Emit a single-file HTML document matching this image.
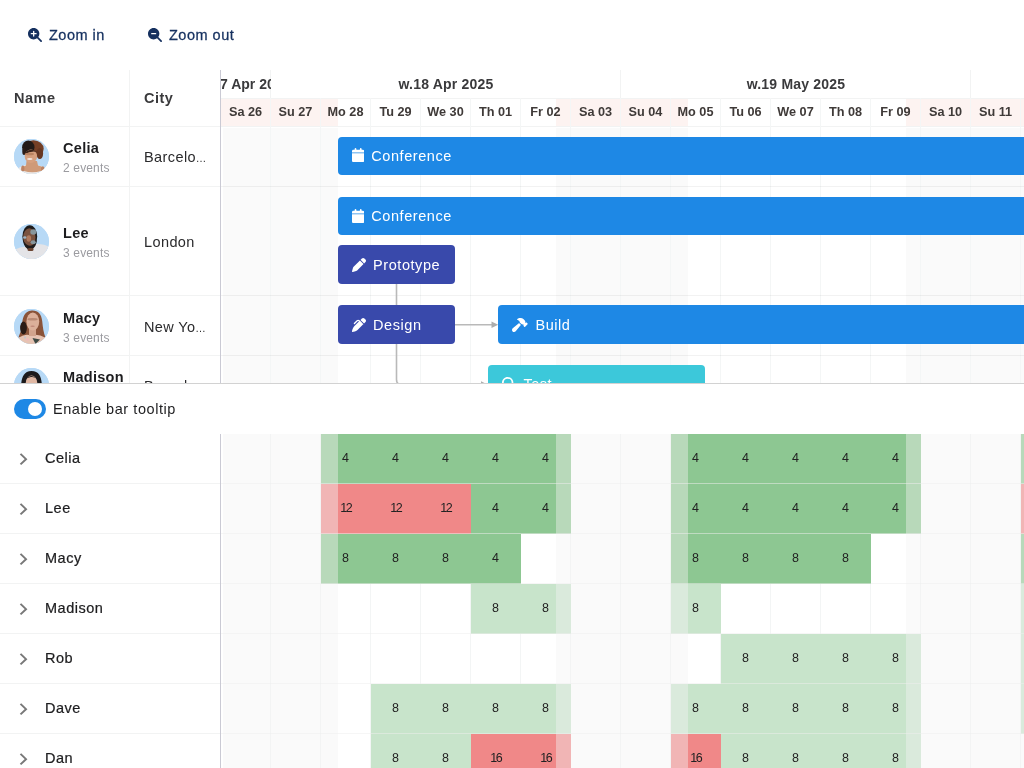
<!DOCTYPE html>
<html lang="en">
<head>
<meta charset="utf-8">
<title>Scheduler with histogram</title>
<style>
*{box-sizing:border-box;margin:0;padding:0}
html,body{width:1024px;height:768px;overflow:hidden;background:#fff;font-family:"Liberation Sans",sans-serif;color:#1d1d1f}
#app{position:relative;width:1024px;height:768px;overflow:hidden;background:#fff}
.a{position:absolute}
.t{position:absolute;white-space:nowrap;line-height:1}
/* toolbar */
.tbtn{-webkit-text-stroke:.28px #15305f;position:absolute;top:27px;font-size:14.5px;letter-spacing:.5px;color:#15305f;white-space:nowrap;line-height:16px}
/* top grid */
#top{position:absolute;left:0;top:70px;width:1024px;height:313px;overflow:hidden;background:#fff}
#lock{position:absolute;left:0;top:0;width:220px;height:313px;background:#fff}
#sched{position:absolute;left:221px;top:0;width:803px;height:313px;overflow:hidden}
.hd{font-weight:bold;font-size:14.5px;color:#3a3a3c;letter-spacing:.5px}
.vl{position:absolute;width:1px;background:#f2f3f3}
.hl{position:absolute;height:1px;background:#f2f3f3}
.av{position:absolute;left:14px;width:35px;height:35px;border-radius:50%;background:#b7d9f6;overflow:hidden}
.nm{font-weight:bold;font-size:14.5px;color:#1d1d1f;left:63px;letter-spacing:.3px}
.ev{font-size:12px;color:#9b9ba0;left:63px;letter-spacing:.15px}
.city i{font-style:normal;font-size:10.5px;letter-spacing:-.2px;margin-left:-.3px}
.city{font-size:14.5px;color:#2a2a2c;left:144px;letter-spacing:.4px}
.dh{position:absolute;top:28px;height:28px;line-height:29.500px;text-align:center;font-weight:bold;font-size:12.700px;color:#3f3a38;width:50px;white-space:nowrap}
.wh{position:absolute;top:0;height:28px;line-height:29px;text-align:center;font-weight:bold;font-size:14px;letter-spacing:.2px;color:#3a3a3c;white-space:nowrap}
.nw{position:absolute;background:rgba(238,238,238,.42)}
.bar{position:absolute;border-radius:4px;color:#fff;font-size:14.5px;letter-spacing:.55px;white-space:nowrap;overflow:hidden}
.bar span{position:absolute;left:33.5px;top:50%;line-height:16px;margin-top:-8px}
.bar svg{position:absolute;left:14px;top:50%}
/* bottom */
#mid{position:absolute;left:0;top:384px;width:1024px;height:50px;background:#fff}
#bot{position:absolute;left:0;top:434px;width:1024px;height:334px;overflow:hidden;background:#fff}
.hn{-webkit-text-stroke:.22px #1d1d1f;font-size:14.5px;color:#1d1d1f;left:45px;letter-spacing:.5px}
.num{position:absolute;width:50px;text-align:center;font-size:12.5px;color:#222;line-height:14px}
</style>
</head>
<body>
<div id="app">
<svg class="a" style="left:28px;top:28px" width="14" height="14" viewBox="0 0 512 512"><path fill="#15305f" d="M416 208c0 45.900-14.900 88.300-40 122.700L502.600 457.400c12.500 12.500 12.500 32.800 0 45.300s-32.800 12.500-45.300 0L330.700 376c-34.400 25.200-76.800 40-122.700 40C93.100 416 0 322.900 0 208S93.100 0 208 0S416 93.100 416 208zM184 296c0 13.300 10.700 24 24 24s24-10.700 24-24l0-64 64 0c13.300 0 24-10.700 24-24s-10.700-24-24-24l-64 0 0-64c0-13.300-10.700-24-24-24s-24 10.700-24 24l0 64-64 0c-13.300 0-24 10.700-24 24s10.700 24 24 24l64 0 0 64z"/></svg>
<div class="tbtn" id="zi" style="left:49px">Zoom in</div>
<svg class="a" style="left:148px;top:28px" width="14" height="14" viewBox="0 0 512 512"><path fill="#15305f" d="M416 208c0 45.900-14.900 88.300-40 122.700L502.600 457.400c12.500 12.500 12.500 32.800 0 45.300s-32.800 12.500-45.300 0L330.700 376c-34.400 25.200-76.800 40-122.700 40C93.100 416 0 322.900 0 208S93.100 0 208 0S416 93.100 416 208zM136 184c-13.300 0-24 10.700-24 24s10.700 24 24 24l144 0c13.300 0 24-10.700 24-24s-10.700-24-24-24l-144 0z"/></svg>
<div class="tbtn" id="zo" style="left:169px">Zoom out</div>
<div id="top">
<div id="lock">
<div class="t hd" id="hname" style="left:14px;top:21px">Name</div>
<div class="t hd" id="hcity" style="left:144px;top:21px">City</div>
<div class="vl" style="left:129px;top:0;height:313px"></div>
<div class="hl" style="left:0;top:56px;width:220px"></div>
<div class="av" id="av0" style="top:68.6px"><svg width="35" height="35" viewBox="0 0 35 35"><rect width="35" height="35" fill="#b7d9f6"/><ellipse cx="17.500" cy="34" rx="16" ry="8.500" fill="#ebe8e6"/><path d="M12.500 22 L23 22 L24 26.500 Q30 27.500 31.500 31.500 L27 32 Q18 34.500 10 32 L7 31.500 Q8 27.500 12 26.500Z" fill="#cf9a78"/><ellipse cx="8.800" cy="29.500" rx="1.600" ry="3" fill="#bd8262"/><ellipse cx="28.800" cy="29.800" rx="1.800" ry="2.600" fill="#bd8262"/><ellipse cx="19.400" cy="9.800" rx="10.300" ry="8.600" fill="#743f26"/><ellipse cx="14.300" cy="8.300" rx="6.200" ry="6.800" fill="#211a18"/><ellipse cx="10" cy="12.500" rx="1.700" ry="3.600" fill="#2a1d18"/><ellipse cx="25.800" cy="14.500" rx="3.300" ry="5.500" fill="#673722"/><ellipse cx="16.900" cy="17.200" rx="6.200" ry="6.800" fill="#d6a07f"/><path d="M10.500 14 Q16 8 23 13 Q17 11.500 10.500 15.500Z" fill="#3a2218"/><ellipse cx="15.500" cy="15" rx="4.600" ry="1.300" fill="#b98362"/><ellipse cx="15.800" cy="20" rx="2.800" ry="1.100" fill="#f1e3db"/></svg></div>
<div class="t nm" id="nm0" style="top:71.0px">Celia</div>
<div class="t ev" id="ev0" style="top:91.5px">2 events</div>
<div class="t city" id="ct0" style="top:79.5px">Barcelo<i>…</i></div>
<div class="hl" style="left:0;top:116px;width:220px"></div>
<div class="av" id="av1" style="top:153.6px"><svg width="35" height="35" viewBox="0 0 35 35"><rect width="35" height="35" fill="#b7d9f6"/><path d="M1 25.500 Q9 21.500 15 23.500 L23 20 Q31 20 35 23 V35 H1Z" fill="#e4e4e7"/><ellipse cx="15.800" cy="12.600" rx="7.400" ry="11.400" fill="#1d1b1b"/><ellipse cx="15.300" cy="13.500" rx="6.200" ry="9.300" fill="#7a5340"/><path d="M8.800 15 Q10 25.500 16.500 25.800 Q22.500 24.500 23 15 Q21 21.500 16 21.800 Q11.500 21.500 8.800 15Z" fill="#1f1c1c"/><rect x="13.500" y="24" width="6" height="3" rx="1.500" fill="#6b4532"/><ellipse cx="19.300" cy="8" rx="3" ry="2.800" fill="#87969c"/><ellipse cx="19.200" cy="18.200" rx="2.600" ry="2" fill="#87969c"/><ellipse cx="10.800" cy="13.500" rx="1.700" ry="1.200" fill="#9db4c4"/><ellipse cx="14.800" cy="14.500" rx="2.300" ry="3.300" fill="#b07a5e"/></svg></div>
<div class="t nm" id="nm1" style="top:156.0px">Lee</div>
<div class="t ev" id="ev1" style="top:176.5px">3 events</div>
<div class="t city" id="ct1" style="top:164.5px">London</div>
<div class="hl" style="left:0;top:225px;width:220px"></div>
<div class="av" id="av2" style="top:238.6px"><svg width="35" height="35" viewBox="0 0 35 35"><rect width="35" height="35" fill="#b7d9f6"/><path d="M17.800 1.500 C9.500 2 8.500 10 8 16 C7.500 22 5.500 25 4.500 28.500 L31.500 28.500 C29.500 24 28.800 18 28.200 12 C27.500 5 24 1.200 17.800 1.500Z" fill="#8a5339"/><ellipse cx="9.500" cy="19" rx="3.400" ry="6.500" fill="#2b1b15"/><path d="M5 28.500 Q11 24.500 17 26.500 Q24 24.500 31 28.500 L29 36 H7Z" fill="#e6c4b3"/><rect x="15" y="19" width="7" height="8" fill="#d1a48d"/><ellipse cx="18.800" cy="12.600" rx="6.400" ry="9" fill="#dcb09a"/><ellipse cx="18.600" cy="10.300" rx="5.200" ry="1.200" fill="#b98a74"/><ellipse cx="18.600" cy="17.200" rx="2.200" ry=".8" fill="#c08878"/><path d="M18.500 29 L21.500 35 L26 30.500 Z" fill="#3d4a44"/><circle cx="13.500" cy="30.500" r="1.200" fill="#f1b6bd"/><circle cx="11" cy="28.500" r=".9" fill="#b8c4d4"/></svg></div>
<div class="t nm" id="nm2" style="top:241.0px">Macy</div>
<div class="t ev" id="ev2" style="top:261.5px">3 events</div>
<div class="t city" id="ct2" style="top:249.5px">New Yo<i>…</i></div>
<div class="hl" style="left:0;top:285px;width:220px"></div>
<div class="av" id="av3" style="top:297.90000000000003px"><svg width="35" height="35" viewBox="0 0 35 35"><rect width="35" height="35" fill="#b7d9f6"/><path d="M17.500 3 C9 3 7.500 11 7 18 L6 30 H29 L28 18 C27.500 10 26 3 17.500 3Z" fill="#1c1a1c"/><ellipse cx="17.500" cy="15" rx="5.800" ry="7.500" fill="#e0b8a4"/><path d="M11.500 11 Q17 5 23.500 11 Q20 8.500 17 9 Q14 9.500 11.500 11Z" fill="#1c1a1c"/></svg></div>
<div class="t nm" id="nm3" style="top:300.3px">Madison</div>
<div class="t ev" id="ev3" style="top:320.8px">3 events</div>
<div class="t city" id="ct3" style="top:308.8px">Barcelo<i>…</i></div>
<div class="hl" style="left:0;top:345px;width:220px"></div>
</div>
<div class="a" style="left:220px;top:0;width:1px;height:313px;background:#cacad4"></div>
<div id="sched">
<div class="a" style="left:0.00px;top:28px;width:116.67px;height:28.500px;background:#fdf3f1"></div>
<div class="a" style="left:335.42px;top:28px;width:131.25px;height:28.500px;background:#fdf3f1"></div>
<div class="a" style="left:685.42px;top:28px;width:117.58px;height:28.500px;background:#fdf3f1"></div>
<div class="a" style="left:1.60px;top:57.500px;width:115.07px;height:256px;background:#fafafa"></div>
<div class="a" style="left:335.42px;top:57.500px;width:131.25px;height:256px;background:#fafafa"></div>
<div class="a" style="left:685.42px;top:57.500px;width:117.58px;height:256px;background:#fafafa"></div>
<div class="hl" style="left:0;top:28px;width:803px"></div>
<div class="hl" style="left:0;top:56px;width:803px"></div>
<div class="vl" style="left:49px;top:28px;height:285px;background:#f4f6f6"></div>
<div class="vl" style="left:99px;top:28px;height:285px;background:#f4f6f6"></div>
<div class="vl" style="left:149px;top:28px;height:285px;background:#f4f6f6"></div>
<div class="vl" style="left:199px;top:28px;height:285px;background:#f4f6f6"></div>
<div class="vl" style="left:249px;top:28px;height:285px;background:#f4f6f6"></div>
<div class="vl" style="left:299px;top:28px;height:285px;background:#f4f6f6"></div>
<div class="vl" style="left:349px;top:28px;height:285px;background:#f4f6f6"></div>
<div class="vl" style="left:399px;top:28px;height:285px;background:#f4f6f6"></div>
<div class="vl" style="left:449px;top:28px;height:285px;background:#f4f6f6"></div>
<div class="vl" style="left:499px;top:28px;height:285px;background:#f4f6f6"></div>
<div class="vl" style="left:549px;top:28px;height:285px;background:#f4f6f6"></div>
<div class="vl" style="left:599px;top:28px;height:285px;background:#f4f6f6"></div>
<div class="vl" style="left:649px;top:28px;height:285px;background:#f4f6f6"></div>
<div class="vl" style="left:699px;top:28px;height:285px;background:#f4f6f6"></div>
<div class="vl" style="left:749px;top:28px;height:285px;background:#f4f6f6"></div>
<div class="vl" style="left:799px;top:28px;height:285px;background:#f4f6f6"></div>
<div class="vl" style="left:849px;top:28px;height:285px;background:#f4f6f6"></div>
<div class="vl" style="left:49px;top:0;height:28px"></div>
<div class="vl" style="left:399px;top:0;height:28px"></div>
<div class="vl" style="left:749px;top:0;height:28px"></div>
<div class="dh" style="left:-0.5px">Sa 26</div>
<div class="dh" style="left:49.5px">Su 27</div>
<div class="dh" style="left:99.5px">Mo 28</div>
<div class="dh" style="left:149.5px">Tu 29</div>
<div class="dh" style="left:199.5px">We 30</div>
<div class="dh" style="left:249.5px">Th 01</div>
<div class="dh" style="left:299.5px">Fr 02</div>
<div class="dh" style="left:349.5px">Sa 03</div>
<div class="dh" style="left:399.5px">Su 04</div>
<div class="dh" style="left:449.5px">Mo 05</div>
<div class="dh" style="left:499.5px">Tu 06</div>
<div class="dh" style="left:549.5px">We 07</div>
<div class="dh" style="left:599.5px">Th 08</div>
<div class="dh" style="left:649.5px">Fr 09</div>
<div class="dh" style="left:699.5px">Sa 10</div>
<div class="dh" style="left:749.5px">Su 11</div>
<div class="dh" style="left:799.5px">Mo 12</div>
<div class="wh" style="left:50px;width:350px">w.18 Apr 2025</div>
<div class="wh" style="left:400px;width:350px">w.19 May 2025</div>
<div class="a" style="left:0;top:0;width:50px;height:28px;overflow:hidden"><div class="wh" id="w17" style="left:-23px;letter-spacing:0">w.17 Apr 2025</div></div>
<div class="a" style="left:750px;top:0;width:53px;height:28px;overflow:hidden"><div class="wh" style="left:128px">w.20 May 2025</div></div>
<div class="hl" style="left:0;top:116px;width:803px;background:rgba(0,0,0,.05)"></div>
<div class="hl" style="left:0;top:225px;width:803px;background:rgba(0,0,0,.05)"></div>
<div class="hl" style="left:0;top:285px;width:803px;background:rgba(0,0,0,.05)"></div>
<svg class="a" style="left:0;top:0" width="803" height="313" viewBox="0 0 803 313"><g fill="none" stroke="#b9b9b9" stroke-width="1.600"><path d="M175.500 213.500 V235.500"/><path d="M175.500 273.500 V309.500 Q175.500 314.600 180.600 314.600 H262"/><path d="M234 254.800 H272"/></g><path d="M270.500 251.500 L277.200 254.800 L270.500 258.100 Z" fill="#adadad"/><path d="M260 311.300 L266.800 314.600 L260 317.900 Z" fill="#adadad"/></svg>
<div class="bar" style="left:116.6px;top:66.7px;width:760px;height:38.5px;background:#1e88e5"><svg width="12.25" height="14" viewBox="0 0 448 512" style="margin-top:-7.5px"><path fill="#fff" d="M96 32l0 32L48 64C21.500 64 0 85.500 0 112l0 48 448 0 0-48c0-26.500-21.500-48-48-48l-48 0 0-32c0-17.700-14.300-32-32-32s-32 14.300-32 32l0 32L160 64l0-32c0-17.700-14.300-32-32-32S96 14.300 96 32zM448 192L0 192 0 464c0 26.500 21.500 48 48 48l352 0c26.500 0 48-21.500 48-48l0-272z"/></svg><span id="bt0" style="left:33.75px">Conference</span></div>
<div class="bar" style="left:116.6px;top:126.9px;width:760px;height:38.4px;background:#1e88e5"><svg width="12.25" height="14" viewBox="0 0 448 512" style="margin-top:-7.5px"><path fill="#fff" d="M96 32l0 32L48 64C21.500 64 0 85.500 0 112l0 48 448 0 0-48c0-26.500-21.500-48-48-48l-48 0 0-32c0-17.700-14.300-32-32-32s-32 14.300-32 32l0 32L160 64l0-32c0-17.700-14.300-32-32-32S96 14.300 96 32zM448 192L0 192 0 464c0 26.500 21.500 48 48 48l352 0c26.500 0 48-21.500 48-48l0-272z"/></svg><span id="bt1" style="left:33.75px">Conference</span></div>
<div class="bar" style="left:116.6px;top:175.4px;width:117.6px;height:38.4px;background:#3949ab"><svg width="14" height="14" viewBox="0 0 512 512" style="margin-top:-7px"><path fill="#fff" d="M362.700 19.300L314.300 67.700 444.300 197.700l48.400-48.400c25-25 25-65.500 0-90.500L453.300 19.300c-25-25-65.500-25-90.500 0zm-71 71L58.600 323.500c-10.400 10.400-18 23.300-22.200 37.400L1 481.200C-1.500 489.700 .8 498.800 7 505s15.300 8.500 23.700 6.100l120.300-35.400c14.100-4.200 27-11.800 37.400-22.200L421.700 220.300 291.700 90.300z"/></svg><span id="bt2" style="left:35.5px">Prototype</span></div>
<div class="bar" style="left:116.6px;top:235.3px;width:117.6px;height:38.5px;background:#3949ab"><svg width="14" height="14" viewBox="0 0 512 512" style="margin-top:-7px"><path fill="#fff" d="M453.300 19.300l39.400 39.400c25 25 25 65.500 0 90.500l-52.100 52.100-1-1-16-16-96-96-17-17 52.100-52.100c25-25 65.500-25 90.500 0zM241 114.900c-9.400-9.400-24.600-9.400-33.900 0L105 217c-9.400 9.400-24.600 9.400-33.900 0s-9.400-24.600 0-33.900L173.100 81c28.100-28.100 73.700-28.100 101.800 0L288 94.100l17 17 96 96 16 16 1 1-17 17L229.500 412.500c-48 48-109.200 80.800-175.800 94.100l-25 5c-7.900 1.600-16-.9-21.700-6.600s-8.100-13.800-6.600-21.700l5-25c13.300-66.600 46.100-127.800 94.100-175.800L254.100 128 241 114.900z"/></svg><span id="bt3" style="left:35.5px">Design</span></div>
<div class="bar" style="left:277.2px;top:235.3px;width:600px;height:38.5px;background:#1e88e5"><svg width="15.750" height="14" viewBox="0 0 576 512" style="margin-top:-7px"><path fill="#fff" d="M413.500 237.500c-28.200 4.800-58.200-3.600-80-25.400l-38.100-38.100C280.400 159 272 138.800 272 117.600l0-12.100L192.300 62c-5.300-2.900-8.600-8.600-8.300-14.700s3.900-11.500 9.500-14l47.200-21C259.100 4.200 279 0 299.200 0l18.100 0c36.700 0 72 14 98.700 39.100l44.600 42c24.200 22.800 33.200 55.700 26.600 86L503 183l8-8c9.400-9.400 24.600-9.400 33.900 0l24 24c9.400 9.400 9.400 24.600 0 33.900l-88 88c-9.400 9.400-24.600 9.400-33.900 0l-24-24c-9.400-9.400-9.400-24.600 0-33.900l8-8-17.500-17.500zM27.400 377.100L260.900 182.600c3.500 4.900 7.500 9.600 11.800 14l38.100 38.100c6 6 12.400 11.200 19.200 15.700L134.900 484.600c-14.500 17.400-36 27.400-58.600 27.400C34.100 512 0 477.800 0 435.700c0-22.600 10.100-44.100 27.400-58.600z"/></svg><span id="bt4" style="left:37.25px">Build</span></div>
<div class="bar" style="left:266.9px;top:295.3px;width:217.6px;height:38.4px;background:#3cc8da"><svg width="14" height="14" viewBox="0 0 512 512" style="margin-top:-7px"><path fill="#fff" d="M416 208c0 45.900-14.900 88.300-40 122.700L502.600 457.400c12.500 12.500 12.500 32.800 0 45.300s-32.800 12.500-45.300 0L330.700 376c-34.400 25.200-76.800 40-122.700 40C93.100 416 0 322.900 0 208S93.100 0 208 0S416 93.100 416 208zM208 352a144 144 0 1 0 0-288 144 144 0 1 0 0 288z"/></svg><span id="bt5" style="left:35.5px">Test</span></div>
</div>
</div>
<div class="a" style="left:0;top:383px;width:1024px;height:1px;background:#d2d2d2"></div><div class="a" style="left:0;top:384px;width:1024px;height:1px;background:#eeeeee"></div>
<div id="mid">
<div class="a" style="left:14.25px;top:14.75px;width:31.500px;height:20.500px;border-radius:10.250px;background:#1e88e5"></div>
<div class="a" style="left:27.900px;top:17.850px;width:14.400px;height:14.400px;border-radius:50%;background:#fff"></div>
<div class="t" id="ebt" style="left:53px;top:17px;font-size:14.5px;color:#1d1d1f;line-height:16px;letter-spacing:.56px">Enable bar tooltip</div>
</div>
<div id="bot">
<div class="vl" style="left:270px;top:0;height:334px;background:#f3f5f5"></div>
<div class="vl" style="left:320px;top:0;height:334px;background:#f3f5f5"></div>
<div class="vl" style="left:370px;top:0;height:334px;background:#f3f5f5"></div>
<div class="vl" style="left:420px;top:0;height:334px;background:#f3f5f5"></div>
<div class="vl" style="left:470px;top:0;height:334px;background:#f3f5f5"></div>
<div class="vl" style="left:520px;top:0;height:334px;background:#f3f5f5"></div>
<div class="vl" style="left:570px;top:0;height:334px;background:#f3f5f5"></div>
<div class="vl" style="left:620px;top:0;height:334px;background:#f3f5f5"></div>
<div class="vl" style="left:670px;top:0;height:334px;background:#f3f5f5"></div>
<div class="vl" style="left:720px;top:0;height:334px;background:#f3f5f5"></div>
<div class="vl" style="left:770px;top:0;height:334px;background:#f3f5f5"></div>
<div class="vl" style="left:820px;top:0;height:334px;background:#f3f5f5"></div>
<div class="vl" style="left:870px;top:0;height:334px;background:#f3f5f5"></div>
<div class="vl" style="left:920px;top:0;height:334px;background:#f3f5f5"></div>
<div class="vl" style="left:970px;top:0;height:334px;background:#f3f5f5"></div>
<div class="vl" style="left:1020px;top:0;height:334px;background:#f3f5f5"></div>
<div class="vl" style="left:1070px;top:0;height:334px;background:#f3f5f5"></div>
<div class="a" style="left:321px;top:0px;width:50px;height:50px;background:#8dc792"></div>
<div class="a" style="left:371px;top:0px;width:50px;height:50px;background:#8dc792"></div>
<div class="a" style="left:421px;top:0px;width:50px;height:50px;background:#8dc792"></div>
<div class="a" style="left:471px;top:0px;width:50px;height:50px;background:#8dc792"></div>
<div class="a" style="left:521px;top:0px;width:50px;height:50px;background:#8dc792"></div>
<div class="a" style="left:671px;top:0px;width:50px;height:50px;background:#8dc792"></div>
<div class="a" style="left:721px;top:0px;width:50px;height:50px;background:#8dc792"></div>
<div class="a" style="left:771px;top:0px;width:50px;height:50px;background:#8dc792"></div>
<div class="a" style="left:821px;top:0px;width:50px;height:50px;background:#8dc792"></div>
<div class="a" style="left:871px;top:0px;width:50px;height:50px;background:#8dc792"></div>
<div class="a" style="left:1021px;top:0px;width:50px;height:50px;background:#8dc792"></div>
<div class="num" style="left:320.5px;top:16.8px">4</div>
<div class="num" style="left:370.5px;top:16.8px">4</div>
<div class="num" style="left:420.5px;top:16.8px">4</div>
<div class="num" style="left:470.5px;top:16.8px">4</div>
<div class="num" style="left:520.5px;top:16.8px">4</div>
<div class="num" style="left:670.5px;top:16.8px">4</div>
<div class="num" style="left:720.5px;top:16.8px">4</div>
<div class="num" style="left:770.5px;top:16.8px">4</div>
<div class="num" style="left:820.5px;top:16.8px">4</div>
<div class="num" style="left:870.5px;top:16.8px">4</div>
<div class="num" style="left:1020.5px;top:16.8px">4</div>
<div class="a" style="left:321px;top:50px;width:50px;height:50px;background:#f08888"></div>
<div class="a" style="left:371px;top:50px;width:50px;height:50px;background:#f08888"></div>
<div class="a" style="left:421px;top:50px;width:50px;height:50px;background:#f08888"></div>
<div class="a" style="left:471px;top:50px;width:50px;height:50px;background:#8dc792"></div>
<div class="a" style="left:521px;top:50px;width:50px;height:50px;background:#8dc792"></div>
<div class="a" style="left:671px;top:50px;width:50px;height:50px;background:#8dc792"></div>
<div class="a" style="left:721px;top:50px;width:50px;height:50px;background:#8dc792"></div>
<div class="a" style="left:771px;top:50px;width:50px;height:50px;background:#8dc792"></div>
<div class="a" style="left:821px;top:50px;width:50px;height:50px;background:#8dc792"></div>
<div class="a" style="left:871px;top:50px;width:50px;height:50px;background:#8dc792"></div>
<div class="a" style="left:1021px;top:50px;width:50px;height:50px;background:#f08888"></div>
<div class="num" style="left:320.5px;top:66.8px;letter-spacing:-1.500px;padding-left:.400px">12</div>
<div class="num" style="left:370.5px;top:66.8px;letter-spacing:-1.500px;padding-left:.400px">12</div>
<div class="num" style="left:420.5px;top:66.8px;letter-spacing:-1.500px;padding-left:.400px">12</div>
<div class="num" style="left:470.5px;top:66.8px">4</div>
<div class="num" style="left:520.5px;top:66.8px">4</div>
<div class="num" style="left:670.5px;top:66.8px">4</div>
<div class="num" style="left:720.5px;top:66.8px">4</div>
<div class="num" style="left:770.5px;top:66.8px">4</div>
<div class="num" style="left:820.5px;top:66.8px">4</div>
<div class="num" style="left:870.5px;top:66.8px">4</div>
<div class="num" style="left:1020.5px;top:66.8px;letter-spacing:-1.500px;padding-left:.400px">12</div>
<div class="a" style="left:321px;top:100px;width:50px;height:50px;background:#8dc792"></div>
<div class="a" style="left:371px;top:100px;width:50px;height:50px;background:#8dc792"></div>
<div class="a" style="left:421px;top:100px;width:50px;height:50px;background:#8dc792"></div>
<div class="a" style="left:471px;top:100px;width:50px;height:50px;background:#8dc792"></div>
<div class="a" style="left:671px;top:100px;width:50px;height:50px;background:#8dc792"></div>
<div class="a" style="left:721px;top:100px;width:50px;height:50px;background:#8dc792"></div>
<div class="a" style="left:771px;top:100px;width:50px;height:50px;background:#8dc792"></div>
<div class="a" style="left:821px;top:100px;width:50px;height:50px;background:#8dc792"></div>
<div class="a" style="left:1021px;top:100px;width:50px;height:50px;background:#8dc792"></div>
<div class="num" style="left:320.5px;top:116.8px">8</div>
<div class="num" style="left:370.5px;top:116.8px">8</div>
<div class="num" style="left:420.5px;top:116.8px">8</div>
<div class="num" style="left:470.5px;top:116.8px">4</div>
<div class="num" style="left:670.5px;top:116.8px">8</div>
<div class="num" style="left:720.5px;top:116.8px">8</div>
<div class="num" style="left:770.5px;top:116.8px">8</div>
<div class="num" style="left:820.5px;top:116.8px">8</div>
<div class="num" style="left:1020.5px;top:116.8px">8</div>
<div class="a" style="left:471px;top:150px;width:50px;height:50px;background:#c8e4cb"></div>
<div class="a" style="left:521px;top:150px;width:50px;height:50px;background:#c8e4cb"></div>
<div class="a" style="left:671px;top:150px;width:50px;height:50px;background:#c8e4cb"></div>
<div class="a" style="left:1021px;top:150px;width:50px;height:50px;background:#c8e4cb"></div>
<div class="num" style="left:470.5px;top:166.8px">8</div>
<div class="num" style="left:520.5px;top:166.8px">8</div>
<div class="num" style="left:670.5px;top:166.8px">8</div>
<div class="num" style="left:1020.5px;top:166.8px">8</div>
<div class="a" style="left:721px;top:200px;width:50px;height:50px;background:#c8e4cb"></div>
<div class="a" style="left:771px;top:200px;width:50px;height:50px;background:#c8e4cb"></div>
<div class="a" style="left:821px;top:200px;width:50px;height:50px;background:#c8e4cb"></div>
<div class="a" style="left:871px;top:200px;width:50px;height:50px;background:#c8e4cb"></div>
<div class="a" style="left:1021px;top:200px;width:50px;height:50px;background:#c8e4cb"></div>
<div class="num" style="left:720.5px;top:216.8px">8</div>
<div class="num" style="left:770.5px;top:216.8px">8</div>
<div class="num" style="left:820.5px;top:216.8px">8</div>
<div class="num" style="left:870.5px;top:216.8px">8</div>
<div class="num" style="left:1020.5px;top:216.8px">8</div>
<div class="a" style="left:371px;top:250px;width:50px;height:50px;background:#c8e4cb"></div>
<div class="a" style="left:421px;top:250px;width:50px;height:50px;background:#c8e4cb"></div>
<div class="a" style="left:471px;top:250px;width:50px;height:50px;background:#c8e4cb"></div>
<div class="a" style="left:521px;top:250px;width:50px;height:50px;background:#c8e4cb"></div>
<div class="a" style="left:671px;top:250px;width:50px;height:50px;background:#c8e4cb"></div>
<div class="a" style="left:721px;top:250px;width:50px;height:50px;background:#c8e4cb"></div>
<div class="a" style="left:771px;top:250px;width:50px;height:50px;background:#c8e4cb"></div>
<div class="a" style="left:821px;top:250px;width:50px;height:50px;background:#c8e4cb"></div>
<div class="a" style="left:871px;top:250px;width:50px;height:50px;background:#c8e4cb"></div>
<div class="a" style="left:1021px;top:250px;width:50px;height:50px;background:#c8e4cb"></div>
<div class="num" style="left:370.5px;top:266.8px">8</div>
<div class="num" style="left:420.5px;top:266.8px">8</div>
<div class="num" style="left:470.5px;top:266.8px">8</div>
<div class="num" style="left:520.5px;top:266.8px">8</div>
<div class="num" style="left:670.5px;top:266.8px">8</div>
<div class="num" style="left:720.5px;top:266.8px">8</div>
<div class="num" style="left:770.5px;top:266.8px">8</div>
<div class="num" style="left:820.5px;top:266.8px">8</div>
<div class="num" style="left:870.5px;top:266.8px">8</div>
<div class="num" style="left:1020.5px;top:266.8px">8</div>
<div class="a" style="left:371px;top:300px;width:50px;height:50px;background:#c8e4cb"></div>
<div class="a" style="left:421px;top:300px;width:50px;height:50px;background:#c8e4cb"></div>
<div class="a" style="left:471px;top:300px;width:50px;height:50px;background:#f08888"></div>
<div class="a" style="left:521px;top:300px;width:50px;height:50px;background:#f08888"></div>
<div class="a" style="left:671px;top:300px;width:50px;height:50px;background:#f08888"></div>
<div class="a" style="left:721px;top:300px;width:50px;height:50px;background:#c8e4cb"></div>
<div class="a" style="left:771px;top:300px;width:50px;height:50px;background:#c8e4cb"></div>
<div class="a" style="left:821px;top:300px;width:50px;height:50px;background:#c8e4cb"></div>
<div class="a" style="left:871px;top:300px;width:50px;height:50px;background:#c8e4cb"></div>
<div class="num" style="left:370.5px;top:316.8px">8</div>
<div class="num" style="left:420.5px;top:316.8px">8</div>
<div class="num" style="left:470.5px;top:316.8px;letter-spacing:-1.500px;padding-left:.400px">16</div>
<div class="num" style="left:520.5px;top:316.8px;letter-spacing:-1.500px;padding-left:.400px">16</div>
<div class="num" style="left:670.5px;top:316.8px;letter-spacing:-1.500px;padding-left:.400px">16</div>
<div class="num" style="left:720.5px;top:316.8px">8</div>
<div class="num" style="left:770.5px;top:316.8px">8</div>
<div class="num" style="left:820.5px;top:316.8px">8</div>
<div class="num" style="left:870.5px;top:316.8px">8</div>
<div class="a" style="left:222.60px;top:0;width:115.07px;height:334px;background:rgba(243,243,243,.42)"></div>
<div class="a" style="left:556.42px;top:0;width:131.25px;height:334px;background:rgba(243,243,243,.42)"></div>
<div class="a" style="left:906.42px;top:0;width:117.58px;height:334px;background:rgba(243,243,243,.42)"></div>
<div class="a" style="left:0;top:0;width:220px;height:334px;background:#fff"></div>
<svg class="a" style="left:18px;top:17px" width="11" height="16" viewBox="0 0 11 16"><path d="M2.500 2.900 L8 8.150 L2.500 13.400" fill="none" stroke="#787878" stroke-width="2" stroke-linecap="butt" stroke-linejoin="miter"/></svg>
<div class="t hn" id="hn0" style="top:15.9px;line-height:16px">Celia</div>
<div class="hl" style="left:0;top:49px;width:220px"></div>
<div class="hl" style="left:221px;top:49px;width:803px;background:rgba(255,255,255,.5)"></div>
<div class="hl" style="left:221px;top:49px;width:803px;background:rgba(0,0,0,.035)"></div>
<svg class="a" style="left:18px;top:67px" width="11" height="16" viewBox="0 0 11 16"><path d="M2.500 2.900 L8 8.150 L2.500 13.400" fill="none" stroke="#787878" stroke-width="2" stroke-linecap="butt" stroke-linejoin="miter"/></svg>
<div class="t hn" id="hn1" style="top:65.9px;line-height:16px">Lee</div>
<div class="hl" style="left:0;top:99px;width:220px"></div>
<div class="hl" style="left:221px;top:99px;width:803px;background:rgba(255,255,255,.5)"></div>
<div class="hl" style="left:221px;top:99px;width:803px;background:rgba(0,0,0,.035)"></div>
<svg class="a" style="left:18px;top:117px" width="11" height="16" viewBox="0 0 11 16"><path d="M2.500 2.900 L8 8.150 L2.500 13.400" fill="none" stroke="#787878" stroke-width="2" stroke-linecap="butt" stroke-linejoin="miter"/></svg>
<div class="t hn" id="hn2" style="top:115.9px;line-height:16px">Macy</div>
<div class="hl" style="left:0;top:149px;width:220px"></div>
<div class="hl" style="left:221px;top:149px;width:803px;background:rgba(255,255,255,.5)"></div>
<div class="hl" style="left:221px;top:149px;width:803px;background:rgba(0,0,0,.035)"></div>
<svg class="a" style="left:18px;top:167px" width="11" height="16" viewBox="0 0 11 16"><path d="M2.500 2.900 L8 8.150 L2.500 13.400" fill="none" stroke="#787878" stroke-width="2" stroke-linecap="butt" stroke-linejoin="miter"/></svg>
<div class="t hn" id="hn3" style="top:165.9px;line-height:16px">Madison</div>
<div class="hl" style="left:0;top:199px;width:220px"></div>
<div class="hl" style="left:221px;top:199px;width:803px;background:rgba(255,255,255,.5)"></div>
<div class="hl" style="left:221px;top:199px;width:803px;background:rgba(0,0,0,.035)"></div>
<svg class="a" style="left:18px;top:217px" width="11" height="16" viewBox="0 0 11 16"><path d="M2.500 2.900 L8 8.150 L2.500 13.400" fill="none" stroke="#787878" stroke-width="2" stroke-linecap="butt" stroke-linejoin="miter"/></svg>
<div class="t hn" id="hn4" style="top:215.9px;line-height:16px">Rob</div>
<div class="hl" style="left:0;top:249px;width:220px"></div>
<div class="hl" style="left:221px;top:249px;width:803px;background:rgba(255,255,255,.5)"></div>
<div class="hl" style="left:221px;top:249px;width:803px;background:rgba(0,0,0,.035)"></div>
<svg class="a" style="left:18px;top:267px" width="11" height="16" viewBox="0 0 11 16"><path d="M2.500 2.900 L8 8.150 L2.500 13.400" fill="none" stroke="#787878" stroke-width="2" stroke-linecap="butt" stroke-linejoin="miter"/></svg>
<div class="t hn" id="hn5" style="top:265.9px;line-height:16px">Dave</div>
<div class="hl" style="left:0;top:299px;width:220px"></div>
<div class="hl" style="left:221px;top:299px;width:803px;background:rgba(255,255,255,.5)"></div>
<div class="hl" style="left:221px;top:299px;width:803px;background:rgba(0,0,0,.035)"></div>
<svg class="a" style="left:18px;top:317px" width="11" height="16" viewBox="0 0 11 16"><path d="M2.500 2.900 L8 8.150 L2.500 13.400" fill="none" stroke="#787878" stroke-width="2" stroke-linecap="butt" stroke-linejoin="miter"/></svg>
<div class="t hn" id="hn6" style="top:315.9px;line-height:16px">Dan</div>
<div class="hl" style="left:0;top:349px;width:220px"></div>
<div class="hl" style="left:221px;top:349px;width:803px;background:rgba(255,255,255,.5)"></div>
<div class="hl" style="left:221px;top:349px;width:803px;background:rgba(0,0,0,.035)"></div>
<div class="a" style="left:220px;top:0;width:1px;height:334px;background:#cacad4"></div>
</div>
</div>
</body>
</html>
